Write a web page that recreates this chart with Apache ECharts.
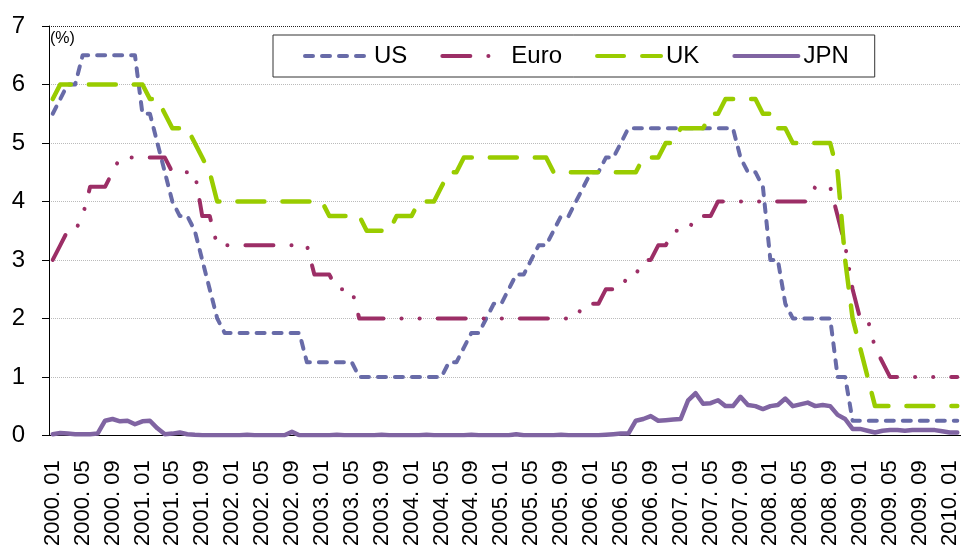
<!DOCTYPE html>
<html>
<head>
<meta charset="utf-8">
<script src="https://cdn.jsdelivr.net/npm/echarts@6/dist/echarts.min.js"></script>
<style>
  html, body { margin: 0; padding: 0; background: #fff; }
  #c1 { width: 961px; height: 549px; }
</style>
</head>
<body>
<div id="c1"></div>
<script>
// monthly, 2000.01 - 2010.02
var years = [2000, 2001, 2002, 2003, 2004, 2005, 2006, 2007, 2008, 2009, 2010];
var lastMonth = 2;
var seriesNames = ['US', 'Euro', 'UK', 'JPN'];

var usRate = [
  5.5, 5.75, 6.0, 6.0, 6.5, 6.5, 6.5, 6.5, 6.5, 6.5, 6.5, 6.5,
  5.5, 5.5, 5.0, 4.5, 4.0, 3.75, 3.75, 3.5, 3.0, 2.5, 2.0, 1.75,
  1.75, 1.75, 1.75, 1.75, 1.75, 1.75, 1.75, 1.75, 1.75, 1.75, 1.25, 1.25,
  1.25, 1.25, 1.25, 1.25, 1.25, 1.0, 1.0, 1.0, 1.0, 1.0, 1.0, 1.0,
  1.0, 1.0, 1.0, 1.0, 1.0, 1.25, 1.25, 1.5, 1.75, 1.75, 2.0, 2.25,
  2.25, 2.5, 2.75, 2.75, 3.0, 3.25, 3.25, 3.5, 3.75, 3.75, 4.0, 4.25,
  4.5, 4.5, 4.75, 4.75, 5.0, 5.25, 5.25, 5.25, 5.25, 5.25, 5.25, 5.25,
  5.25, 5.25, 5.25, 5.25, 5.25, 5.25, 5.25, 5.25, 4.75, 4.5, 4.5, 4.25,
  3.0, 3.0, 2.25, 2.0, 2.0, 2.0, 2.0, 2.0, 2.0, 1.0, 1.0, 0.25,
  0.25, 0.25, 0.25, 0.25, 0.25, 0.25, 0.25, 0.25, 0.25, 0.25, 0.25, 0.25,
  0.25, 0.25
];

var euroRate = [
  3.0, 3.25, 3.5, 3.5, 3.75, 4.25, 4.25, 4.25, 4.5, 4.75, 4.75, 4.75,
  4.75, 4.75, 4.75, 4.75, 4.5, 4.5, 4.5, 4.5, 3.75, 3.75, 3.25, 3.25,
  3.25, 3.25, 3.25, 3.25, 3.25, 3.25, 3.25, 3.25, 3.25, 3.25, 3.25, 2.75,
  2.75, 2.75, 2.5, 2.5, 2.5, 2.0, 2.0, 2.0, 2.0, 2.0, 2.0, 2.0,
  2.0, 2.0, 2.0, 2.0, 2.0, 2.0, 2.0, 2.0, 2.0, 2.0, 2.0, 2.0,
  2.0, 2.0, 2.0, 2.0, 2.0, 2.0, 2.0, 2.0, 2.0, 2.0, 2.0, 2.25,
  2.25, 2.25, 2.5, 2.5, 2.5, 2.75, 2.75, 3.0, 3.0, 3.25, 3.25, 3.5,
  3.5, 3.5, 3.75, 3.75, 3.75, 4.0, 4.0, 4.0, 4.0, 4.0, 4.0, 4.0,
  4.0, 4.0, 4.0, 4.0, 4.0, 4.0, 4.25, 4.25, 4.25, 3.75, 3.25, 2.5,
  2.0, 2.0, 1.5, 1.25, 1.0, 1.0, 1.0, 1.0, 1.0, 1.0, 1.0, 1.0,
  1.0, 1.0
];

var ukRate = [
  5.75, 6.0, 6.0, 6.0, 6.0, 6.0, 6.0, 6.0, 6.0, 6.0, 6.0, 6.0,
  6.0, 5.75, 5.75, 5.5, 5.25, 5.25, 5.25, 5.0, 4.75, 4.5, 4.0, 4.0,
  4.0, 4.0, 4.0, 4.0, 4.0, 4.0, 4.0, 4.0, 4.0, 4.0, 4.0, 4.0,
  4.0, 3.75, 3.75, 3.75, 3.75, 3.75, 3.5, 3.5, 3.5, 3.5, 3.75, 3.75,
  3.75, 4.0, 4.0, 4.0, 4.25, 4.5, 4.5, 4.75, 4.75, 4.75, 4.75, 4.75,
  4.75, 4.75, 4.75, 4.75, 4.75, 4.75, 4.75, 4.5, 4.5, 4.5, 4.5, 4.5,
  4.5, 4.5, 4.5, 4.5, 4.5, 4.5, 4.5, 4.75, 4.75, 4.75, 5.0, 5.0,
  5.25, 5.25, 5.25, 5.25, 5.5, 5.5, 5.75, 5.75, 5.75, 5.75, 5.75, 5.5,
  5.5, 5.25, 5.25, 5.0, 5.0, 5.0, 5.0, 5.0, 5.0, 4.5, 3.0, 2.0,
  1.5, 1.0, 0.5, 0.5, 0.5, 0.5, 0.5, 0.5, 0.5, 0.5, 0.5, 0.5,
  0.5, 0.5
];

var jpnRate = [
  0.02, 0.04, 0.03, 0.02, 0.02, 0.02, 0.03, 0.25, 0.28, 0.24, 0.25, 0.19,
  0.24, 0.25, 0.12, 0.02, 0.03, 0.05, 0.02, 0.01, 0.003, 0.002, 0.002, 0.002,
  0.002, 0.002, 0.01, 0.002, 0.002, 0.002, 0.002, 0.002, 0.06, 0.002, 0.002, 0.002,
  0.002, 0.002, 0.01, 0.002, 0.002, 0.002, 0.002, 0.002, 0.01, 0.002, 0.002, 0.002,
  0.002, 0.002, 0.01, 0.002, 0.002, 0.002, 0.002, 0.002, 0.01, 0.002, 0.002, 0.002,
  0.002, 0.002, 0.02, 0.002, 0.002, 0.002, 0.002, 0.002, 0.01, 0.002, 0.002, 0.002,
  0.002, 0.002, 0.01, 0.02, 0.03, 0.03, 0.25, 0.28, 0.33, 0.25, 0.26, 0.27,
  0.28, 0.6, 0.72, 0.54, 0.55, 0.6, 0.5, 0.5, 0.66, 0.52, 0.5, 0.45,
  0.5, 0.52, 0.63, 0.5, 0.53, 0.56, 0.5, 0.52, 0.5, 0.35, 0.28, 0.11,
  0.11, 0.08, 0.05, 0.08, 0.09, 0.09, 0.08, 0.09, 0.09, 0.09, 0.09, 0.07,
  0.05, 0.05
];

var yTicks = [0, 1, 2, 3, 4, 5, 6, 7];

var months = [];
years.forEach(function (y) {
  for (var m = 1; m <= 12; m++) {
    if (y === 2010 && m > lastMonth) break;
    months.push(y + '. ' + (m < 10 ? '0' + m : m));
  }
});

var font = '"Liberation Sans", Arial, sans-serif';

function lineSeries(name, data, color, width, dash) {
  return {
    name: name,
    type: 'line',
    data: data,
    symbol: 'none',
    smooth: false,
    lineStyle: { color: color, width: width, type: dash, cap: 'round', join: 'round' },
    itemStyle: { color: color }
  };
}

var option = {
  animation: false,
  backgroundColor: '#fff',
  textStyle: { fontFamily: font },
  grid: { left: 49, right: -4, top: 26, bottom: 111 },
  legend: {
    data: seriesNames,
    left: 273,
    top: 35,
    padding: [9, 26, 9, 30],
    itemWidth: 64,
    itemHeight: 14,
    itemGap: 33,
    borderColor: '#333',
    borderWidth: 1,
    backgroundColor: '#fff',
    // hide the marker dot, keep only the line sample
    itemStyle: { color: 'rgba(0,0,0,0)', borderColor: 'rgba(0,0,0,0)', borderWidth: 0 },
    lineStyle: { width: 4, cap: 'round' },
    textStyle: { fontSize: 24, color: '#000', fontFamily: font }
  },
  graphic: [{
    type: 'text',
    left: 50,
    top: 31,
    style: { text: '(%)', fontSize: 16, fill: '#000', fontFamily: font }
  }],
  xAxis: {
    type: 'category',
    data: months,
    boundaryGap: true,
    axisLine: { lineStyle: { color: '#000', width: 1 } },
    axisTick: { interval: 0, length: 6, lineStyle: { color: '#000' } },
    axisLabel: { interval: 3, rotate: 90, margin: 25, fontSize: 22, color: '#000', fontFamily: font },
    splitLine: { show: false }
  },
  yAxis: {
    type: 'value',
    min: yTicks[0],
    max: yTicks[yTicks.length - 1],
    interval: 1,
    axisLine: { show: true, lineStyle: { color: '#000', width: 1 } },
    axisTick: { show: true, length: 7, lineStyle: { color: '#000' } },
    axisLabel: { margin: 24, fontSize: 24, color: '#000', fontFamily: font },
    splitLine: {
      show: true,
      lineStyle: {
        color: ['#bbb', '#bbb', '#bbb', '#bbb', '#bbb', '#bbb', '#bbb', '#222'],
        type: 'dotted',
        width: 1
      }
    }
  },
  series: [
    lineSeries('US', usRate, '#686BA8', 4, [8, 9]),
    lineSeries('Euro', euroRate, '#9C2E66', 4, [28, 18, 0.1, 18, 0.1, 18]),
    lineSeries('UK', ukRate, '#99CC00', 4.5, [27, 18]),
    lineSeries('JPN', jpnRate, '#8064A2', 4.5, 'solid')
  ]
};

var myChart = echarts.init(document.getElementById('c1'));
myChart.setOption(option);
</script>
</body>
</html>
